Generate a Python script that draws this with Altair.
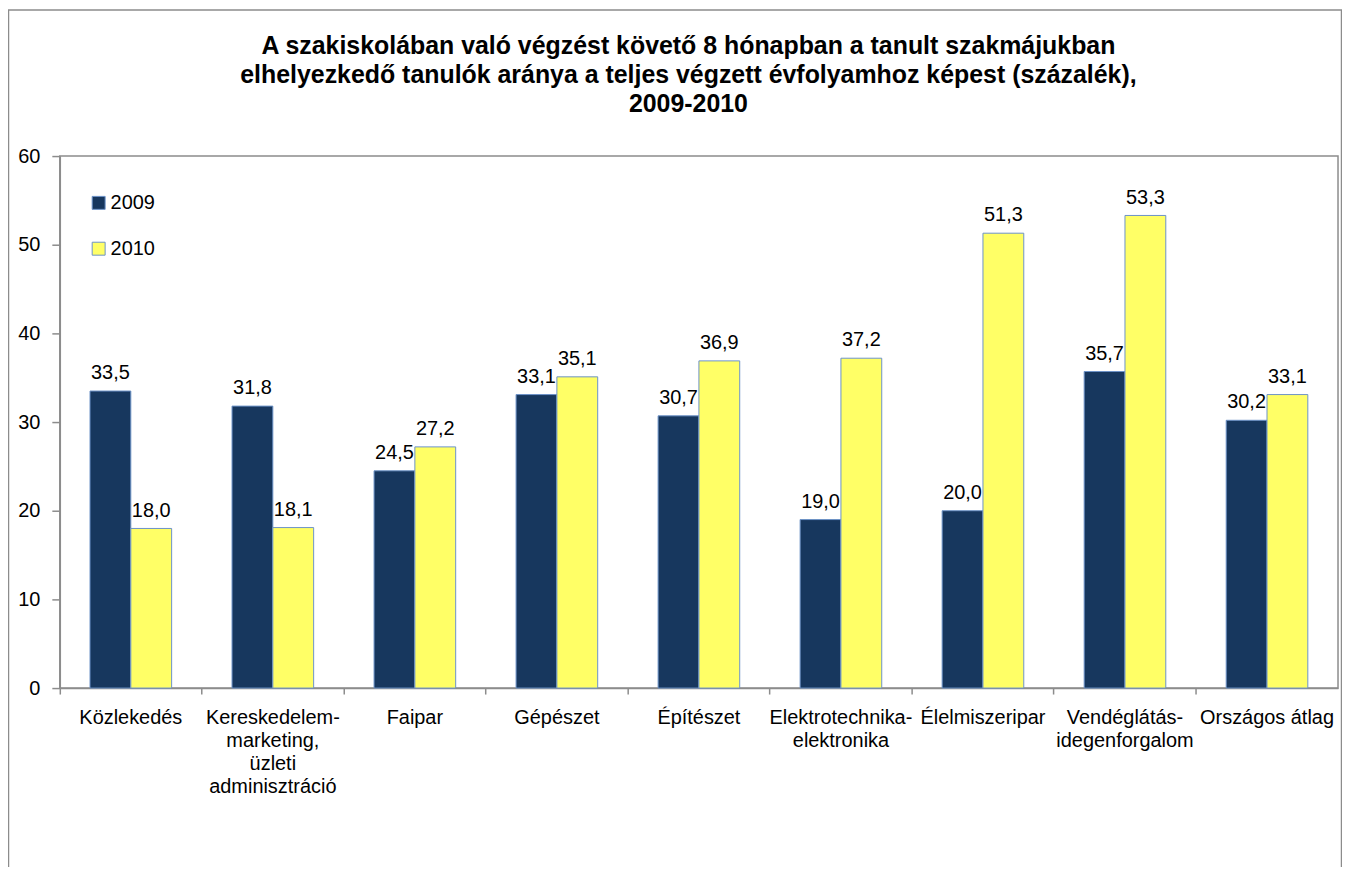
import altair as alt
import pandas as pd

categories = [
    "Közlekedés",
    "Kereskedelem-\nmarketing,\nüzleti\nadminisztráció",
    "Faipar",
    "Gépészet",
    "Építészet",
    "Elektrotechnika-\nelektronika",
    "Élelmiszeripar",
    "Vendéglátás-\nidegenforgalom",
    "Országos átlag",
]
values_2009 = [33.5, 31.8, 24.5, 33.1, 30.7, 19.0, 20.0, 35.7, 30.2]
values_2010 = [18.0, 18.1, 27.2, 35.1, 36.9, 37.2, 51.3, 53.3, 33.1]
years = ["2009", "2010"]
y_ticks = [0, 10, 20, 30, 40, 50, 60]
title_lines = [
    "A szakiskolában való végzést követő 8 hónapban a tanult szakmájukban",
    "elhelyezkedő tanulók aránya a teljes végzett évfolyamhoz képest (százalék),",
    "2009-2010",
]

FONT = "Liberation Sans"
NAVY = "#17375E"
YELLOW = "#FFFF66"
OUTLINE = "#6C93C8"
GRAY = "#8C8C8C"

rows = []
for c, a, b in zip(categories, values_2009, values_2010):
    rows.append({"cat": c, "year": years[0], "value": a})
    rows.append({"cat": c, "year": years[1], "value": b})
df = pd.DataFrame(rows)

x_enc = alt.X(
    "cat:N",
    sort=categories,
    title=None,
    scale=alt.Scale(paddingInner=0, paddingOuter=0),
    axis=alt.Axis(
        labelAngle=0,
        labelExpr="split(datum.label, '\\n')",
        labelLineHeight=23,
        labelFontSize=20,
        labelPadding=14,
        labelLimit=300,
        tickSize=6,
        bandPosition=0,
        labelColor="black",
    ),
)
xoff_enc = alt.XOffset(
    "year:N", sort=years, scale=alt.Scale(paddingInner=0, paddingOuter=0.74)
)
y_enc = alt.Y(
    "value:Q",
    title=None,
    scale=alt.Scale(domain=[0, 60], nice=False),
    axis=alt.Axis(
        values=y_ticks,
        tickSize=8,
        labelPadding=12,
        labelFontSize=20,
        labelColor="black",
        grid=False,
    ),
)

base = alt.Chart(df).transform_calculate(
    lbl="replace(format(datum.value, '.1f'), '.', ',')"
)

bars = base.mark_bar(stroke=OUTLINE, strokeWidth=1).encode(
    x=x_enc,
    xOffset=xoff_enc,
    y=y_enc,
    color=alt.Color(
        "year:N",
        sort=years,
        scale=alt.Scale(domain=years, range=[NAVY, YELLOW]),
        legend=alt.Legend(
            title=None,
            orient="none",
            legendX=29,
            legendY=37,
            direction="vertical",
            symbolType="square",
            symbolSize=169,
            symbolStrokeColor=OUTLINE,
            symbolStrokeWidth=1,
            labelFontSize=20,
            labelFont=FONT,
            labelColor="black",
            labelOffset=2,
            rowPadding=26,
            padding=0,
        ),
    ),
)

labels = base.mark_text(
    dy=-12, baseline="alphabetic", fontSize=20, font=FONT, color="black"
).encode(x=x_enc, xOffset=xoff_enc, y=y_enc, text="lbl:N")

border = (
    alt.Chart(pd.DataFrame({"k": [0]}))
    .mark_rect(fill="transparent", stroke=GRAY, strokeWidth=1.5)
    .encode(
        x=alt.value(-51.5),
        x2=alt.value(1286.5),
        y=alt.value(-146.5),
        y2=alt.value(760),
    )
)

title = (
    alt.Chart(pd.DataFrame({"t": ["\n".join(title_lines)]}))
    .mark_text(
        font=FONT,
        fontSize=25,
        fontWeight="bold",
        lineHeight=29,
        lineBreak="\n",
        align="center",
        baseline="alphabetic",
        color="black",
    )
    .encode(x=alt.value(631), y=alt.value(-102), text="t:N")
)

chart = (
    alt.layer(border, title, bars, labels)
    .properties(
        width=1283,
        height=534,
        padding={"left": 52, "top": 147, "right": 4, "bottom": 178},
        autosize=alt.AutoSizeParams(type="none"),
    )
    .configure_view(stroke=GRAY, strokeWidth=1.5)
    .configure_axis(
        domainColor=GRAY,
        domainWidth=1.5,
        tickColor=GRAY,
        tickWidth=1.5,
        labelFont=FONT,
        grid=False,
    )
)

chart.save("out.html", embed_options={"renderer": "svg", "actions": False})
